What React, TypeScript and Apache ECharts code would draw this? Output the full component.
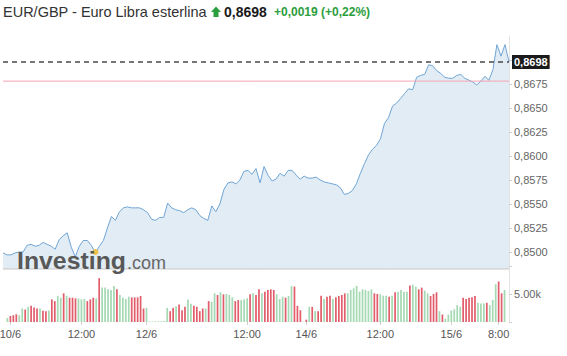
import React, { useEffect, useRef } from 'react';
import * as echarts from 'echarts';

// EUR/GBP close prices (line)
const prices = [
  0.8499, 0.8497, 0.8497, 0.8499, 0.8500, 0.8500, 0.8507, 0.8508, 0.8506, 0.8507,
  0.8510, 0.8508, 0.8506, 0.8503, 0.8513, 0.8517, 0.8520, 0.8505, 0.8495, 0.8506,
  0.8512, 0.8512, 0.8507, 0.8499, 0.8506, 0.8512, 0.8525, 0.8537, 0.8533, 0.8542,
  0.8546, 0.8547, 0.8546, 0.8546, 0.8546, 0.8544, 0.8541, 0.8534, 0.8533, 0.8536,
  0.8536, 0.8551, 0.8546, 0.8544, 0.8543, 0.8541, 0.8544, 0.8546, 0.8544, 0.8538,
  0.8535, 0.8533, 0.8548, 0.8542, 0.8550, 0.8565, 0.8572, 0.8573, 0.8571, 0.8575,
  0.8584, 0.8585, 0.8581, 0.8587, 0.8572, 0.8589, 0.8580, 0.8574, 0.8576, 0.8582,
  0.8579, 0.8585, 0.8585, 0.8580, 0.8576, 0.8579, 0.8577, 0.8577, 0.8578, 0.8575,
  0.8573, 0.8572, 0.8571, 0.8570, 0.8567, 0.8560, 0.8561, 0.8564, 0.8571, 0.8582,
  0.8592, 0.8601, 0.8607, 0.8611, 0.8618, 0.8634, 0.8640, 0.8652, 0.8655, 0.8660,
  0.8665, 0.8670, 0.8669, 0.8682, 0.8684, 0.8685, 0.8695, 0.8694, 0.8689, 0.8686,
  0.8682, 0.8681, 0.8681, 0.8684, 0.8685, 0.8681, 0.8679, 0.8677, 0.8674, 0.8678,
  0.8683, 0.8679, 0.8690, 0.8716, 0.8704, 0.8716, 0.8698,
];

// Volume per bar
const volumes = [
  0, 720, 1080, 1200, 1390, 1200, 2410, 2230, 2710, 2890,
  2590, 2410, 2410, 1990, 1930, 2050, 4040, 3730, 4640, 4340,
  5120, 4700, 4340, 4340, 4220, 4220, 4040, 4100, 3730, 4040,
  4340, 4220, 7830, 6140, 6140, 5840, 5720, 6450, 5840, 4820,
  4340, 4100, 4520, 4400, 4400, 4400, 4640, 2410, 2530, 120,
  100, 120, 110, 130, 180, 2530, 1930, 2530, 2830, 3130,
  2110, 2710, 4040, 3250, 2890, 2710, 1930, 2410, 2410, 3730,
  3610, 5120, 4820, 5300, 4940, 5000, 4820, 4400, 3730, 3920,
  3920, 4040, 4220, 4940, 5120, 4820, 5840, 5120, 5420, 5720,
  5840, 5720, 4940, 4100, 4520, 4340, 4640, 6450, 6330, 2890,
  2110, 60, 420, 2710, 2710, 1930, 1930, 4700, 4100, 4520,
  4700, 4100, 4400, 4640, 4820, 5120, 5120, 5720, 6020, 6450,
  5420, 5840, 5720, 5540, 5840, 5120, 5000, 4940, 4700, 4700,
  4520, 4700, 5300, 5420, 5720, 5420, 5420, 6510, 6630, 6330,
  5840, 6140, 5600, 5120, 4640, 5000, 5300, 1930, 1330, 600,
  1330, 2050, 2290, 3010, 2710, 4340, 4100, 4340, 4400, 4640,
  3430, 3310, 3310, 3430, 3010, 3920, 6750, 7230, 5120, 5720,
  0,
];

// 'g' = up bar, 'r' = down bar
const volumeDirs = [
  'g','g','r','r','r','g','g','r','g','r',
  'r','r','g','r','r','g','r','r','g','g',
  'r','g','r','r','r','g','g','g','r','r',
  'r','g','r','g','g','g','g','g','r','g',
  'g','g','g','r','r','r','r','r','g','g',
  'g','g','g','g','g','g','r','r','g','r',
  'r','r','g','g','r','r','r','r','g','r',
  'g','g','r','g','r','g','g','g','r','r',
  'g','g','g','r','g','r','r','g','r','r',
  'r','r','g','g','g','r','g','g','r','r',
  'r','g','r','g','r','g','r','r','g','r',
  'r','g','r','r','r','r','g','g','g','g',
  'g','g','g','g','g','r','r','g','g','g',
  'r','g','r','g','g','g','g','r','g','g',
  'r','r','g','g','r','r','r','g','r','g',
  'g','g','g','g','g','r','r','r','r','r',
  'g','g','g','r','g','g','g','r','r','g',
  'g',
];

const xTickLabels = ['10/6', '12:00', '12/6', '12:00', '14/6', '12:00', '15/6', '8:00'];
const xTickIndex = [2, 26, 48, 82, 102, 127, 151, 167];

const lastPrice = 0.8698;
const prevClose = 0.8678;
const areaFloor = 0.84823;
const changeText = '+0,0019 (+0,22%)';
const titleText = 'EUR/GBP - Euro Libra esterlina';

const FONT = '"Liberation Sans", Arial, sans-serif';
const fmt = (v: number) => v.toFixed(4).replace('.', ',');
const SHIFT = 8; // chart canvas starts 8px left of the page edge

export default function App() {
  const ref = useRef<HTMLDivElement>(null);

  useEffect(() => {
    const chart = echarts.init(ref.current!, null, { renderer: 'svg' });
    const labelByIdx: Record<number, string> = {};
    xTickIndex.forEach((idx, k) => { labelByIdx[idx] = xTickLabels[k]; });
    const isLabel = (i: number) => labelByIdx[i] !== undefined;

    const refLine = (value: number, color: string, z: number) => ({
      type: 'line', xAxisIndex: 0, yAxisIndex: 0, z, silent: true,
      data: prices.map(() => value), symbol: 'none',
      lineStyle: { color, width: 1, type: 'solid' },
      emphasis: { disabled: true },
      tooltip: { show: false },
    });

    const option: any = {
      animation: false,
      textStyle: { fontFamily: FONT },
      grid: [
        { left: 3 + SHIFT, right: 58, top: 36, bottom: 80 },
        { left: 3 + SHIFT, right: 58, top: 266, bottom: 34 },
      ],
      xAxis: [
        {
          gridIndex: 0, type: 'category', boundaryGap: false,
          data: prices.map((_, i) => String(i)), show: false,
        },
        {
          gridIndex: 1, type: 'category', boundaryGap: true,
          data: volumes.map((_, i) => String(i)),
          axisLine: { show: false },
          axisTick: {
            show: true, length: 3, alignWithLabel: true,
            interval: (i: number) => isLabel(i),
            lineStyle: { color: '#cfcfcf' },
          },
          axisLabel: {
            interval: (i: number) => isLabel(i),
            formatter: (v: string) => labelByIdx[Number(v)] || '',
            fontSize: 11, color: '#555', margin: 6, fontFamily: FONT,
          },
          splitLine: { show: false },
        },
      ],
      yAxis: [
        {
          gridIndex: 0, type: 'value', position: 'right',
          min: 0.8475, max: 0.8725, interval: 0.0025,
          axisLine: { show: true, lineStyle: { color: '#e3e3e3' } },
          axisTick: { show: true, length: 3, lineStyle: { color: '#cfcfcf' } },
          axisLabel: {
            fontSize: 11, color: '#666', margin: 5, fontFamily: FONT,
            showMinLabel: false, showMaxLabel: false,
            formatter: (v: number) => (v > 0.86999 || v < 0.84999 ? '' : fmt(v)),
          },
          splitLine: { show: false },
        },
        {
          gridIndex: 1, type: 'value', position: 'right',
          min: 0, max: 10000, interval: 5000,
          axisLine: { show: true, lineStyle: { color: '#e3e3e3' } },
          axisTick: { show: true, length: 3, lineStyle: { color: '#cfcfcf' } },
          axisLabel: {
            fontSize: 11, color: '#666', margin: 5, fontFamily: FONT,
            formatter: (v: number) => (v === 5000 ? (v / 1000).toFixed(2) + 'k' : ''),
          },
          splitLine: { show: false },
        },
      ],
      series: [
        {
          type: 'line', xAxisIndex: 0, yAxisIndex: 0,
          data: prices, symbol: 'none', smooth: false,
          lineStyle: { color: '#6fa5d5', width: 1 },
          areaStyle: { color: '#e2ecf5', opacity: 1, origin: areaFloor },
          z: 2,
          markPoint: {
            silent: true,
            symbol: 'circle', symbolSize: 6,
            itemStyle: { color: '#f0c24a' },
            label: { show: false },
            data: [{ coord: ['23', 0.85] }],
          },
        },
        refLine(areaFloor, '#c4c4c4', 3),
        refLine(prevClose, '#f4a3b2', 3),
        {
          type: 'line', xAxisIndex: 0, yAxisIndex: 0, data: [], z: 4,
          markLine: {
            silent: true, symbol: 'none', precision: 6,
            lineStyle: { color: '#4a4a4a', type: [5, 4], width: 1.5, opacity: 1 },
            label: {
              show: true, position: 'end', distance: 3,
              formatter: fmt(lastPrice),
              backgroundColor: '#1b1b1b', color: '#fff',
              fontWeight: 'bold', fontSize: 11, fontFamily: FONT,
              padding: [2, 2, 1, 2],
            },
            data: [{ yAxis: lastPrice }],
          },
        },
        {
          type: 'bar', xAxisIndex: 1, yAxisIndex: 1,
          barWidth: '58%',
          data: volumes.map((v, i) => ({
            value: v,
            itemStyle: { color: volumeDirs[i] === 'r' ? '#e25d6b' : '#a4d9b3' },
          })),
          z: 3,
        },
      ],
      graphic: [
        {
          type: 'text', x: 3 + SHIFT, y: 11.5, z: 10,
          style: {
            text: titleText, fontSize: 14.5, fontFamily: FONT,
            fill: '#333', verticalAlign: 'middle',
          },
        },
        {
          type: 'polygon', z: 10, x: SHIFT,
          shape: {
            points: [[216, 6.5], [221, 12], [218.5, 12], [218.5, 17], [213.5, 17], [213.5, 12], [211, 12]],
          },
          style: { fill: '#2b9e3e' },
        },
        {
          type: 'text', x: 224 + SHIFT, y: 11.5, z: 10,
          style: {
            text: fmt(lastPrice), fontSize: 14, fontWeight: 'bold', fontFamily: FONT,
            fill: '#1a1a1a', verticalAlign: 'middle',
          },
        },
        {
          type: 'text', x: 274 + SHIFT, y: 12, z: 10,
          style: {
            text: changeText, fontSize: 12, fontWeight: 'bold', fontFamily: FONT,
            fill: '#2b9e3e', verticalAlign: 'middle',
          },
        },
        {
          type: 'text', x: 17 + SHIFT, y: 261, z: 10, scaleX: 1.08,
          style: {
            text: 'Investing', fontSize: 23, fontWeight: 'bold', fontFamily: FONT,
            fill: '#585858', verticalAlign: 'middle',
          },
        },
        {
          type: 'text', x: 127 + SHIFT, y: 263, z: 10,
          style: {
            text: '.com', fontSize: 18, fontFamily: FONT,
            fill: '#666', verticalAlign: 'middle',
          },
        },
      ],
    };

    chart.setOption(option);
    return () => chart.dispose();
  }, []);

  return (
    <div
      ref={ref}
      style={{ position: 'fixed', left: -SHIFT, top: 0, width: 567 + SHIFT, height: 356, background: '#fff' }}
    />
  );
}
